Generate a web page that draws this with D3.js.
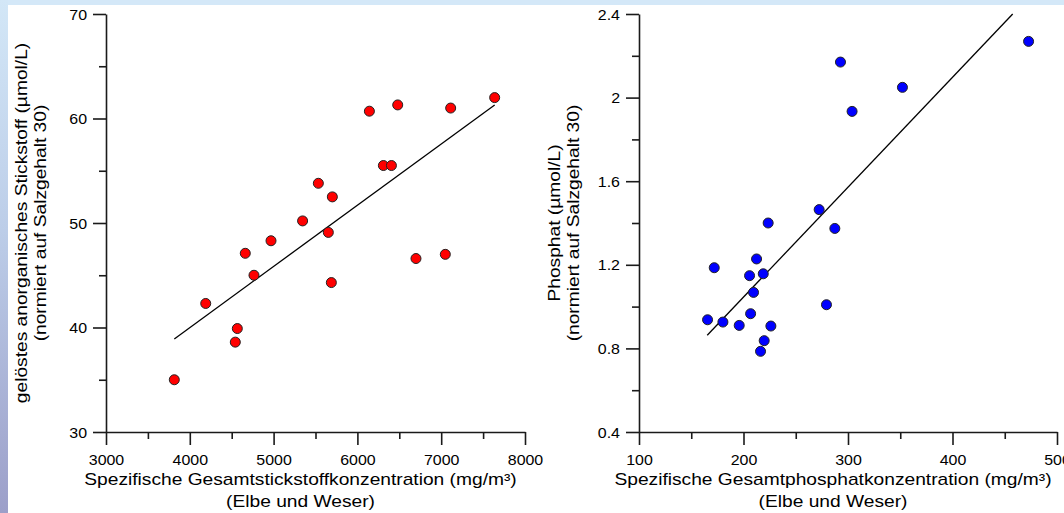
<!DOCTYPE html>
<html>
<head>
<meta charset="utf-8">
<script src="https://cdn.jsdelivr.net/npm/d3@7"></script>
<style>
  body { margin: 0; background: #fff; }
  svg { display: block; font-family: "Liberation Sans", Arial, sans-serif; }
</style>
</head>
<body>
<div id="chart"></div>
<script>
// left panel: dissolved inorganic nitrogen vs specific total nitrogen
var nitrogenX = [3815, 4190, 4543, 4567, 4662, 4766, 4969, 5346, 5534, 5653, 5689, 5701, 6143, 6310, 6406, 6481, 6699, 7049, 7113, 7638];
var nitrogenY = [35.0, 42.3, 38.6, 39.9, 47.1, 45.0, 48.3, 50.2, 53.8, 49.1, 44.3, 52.5, 60.7, 55.5, 55.5, 61.3, 46.6, 47.0, 61.0, 62.0];
var nitrogenFitX = [3815, 7638];
var nitrogenFitY = [38.9, 61.3];
var nitrogenXTicks = [3000, 4000, 5000, 6000, 7000, 8000];
var nitrogenXMinor = [3500, 4500, 5500, 6500, 7500];
var nitrogenYTicks = [30, 40, 50, 60, 70];
var nitrogenYLabels = ["30", "40", "50", "60", "70"];
var nitrogenYMinor = [35, 45, 55, 65];

// right panel: phosphate vs specific total phosphate
var phosphateX = [165.6, 172.0, 180.3, 195.9, 205.8, 206.8, 209.6, 212.5, 216.3, 218.9, 219.8, 223.6, 226.2, 272.4, 279.4, 287.4, 292.8, 303.9, 352.1, 472.8];
var phosphateY = [0.937, 1.186, 0.926, 0.910, 1.148, 0.966, 1.068, 1.228, 0.786, 1.157, 0.837, 1.400, 0.907, 1.464, 1.009, 1.374, 2.170, 1.934, 2.049, 2.269];
var phosphateFitX = [165.3, 457.6];
var phosphateFitY = [0.863, 2.4];
var phosphateXTicks = [100, 200, 300, 400, 500];
var phosphateXMinor = [150, 250, 350, 450];
var phosphateYTicks = [0.4, 0.8, 1.2, 1.6, 2.0, 2.4];
var phosphateYLabels = ["0.4", "0.8", "1.2", "1.6", "2", "2.4"];
var phosphateYMinor = [0.6, 1.0, 1.4, 1.8, 2.2];

var W = 1064, H = 513;
var TICK_SX = 1.14, TITLE_SX = 1.2;

var svg = d3.select("#chart").append("svg")
    .attr("width", W)
    .attr("height", H);

// background frame: blue strip at top, gradient strip on the left
var grad = svg.append("defs").append("linearGradient")
    .attr("id", "edge")
    .attr("x1", 0).attr("y1", 0).attr("x2", 0).attr("y2", 1);
grad.append("stop").attr("offset", "0%").attr("stop-color", "#d3e7f7");
grad.append("stop").attr("offset", "45%").attr("stop-color", "#bccde8");
grad.append("stop").attr("offset", "100%").attr("stop-color", "#9c9fc9");

svg.append("rect").attr("width", W).attr("height", H).attr("fill", "#d4e8f8");
svg.append("rect").attr("width", 8).attr("height", H).attr("fill", "url(#edge)");
svg.append("rect").attr("x", 8).attr("y", 5).attr("width", W - 8).attr("height", H - 5).attr("fill", "#fff");

function draw_panel(p){

  var x = d3.scaleLinear().domain(p.xDomain).range(p.xRange),
      y = d3.scaleLinear().domain(p.yDomain).range([432, 14]);

  var g = svg.append("g");

  // major + minor x ticks
  var xg = g.append("g")
      .attr("transform", "translate(0,432)")
      .call(d3.axisBottom(x).tickValues(p.xTicks).tickFormat(d3.format("d"))
          .tickSize(13).tickPadding(10).tickSizeOuter(0));
  xg.append("g")
      .call(d3.axisBottom(x).tickValues(p.xMinor).tickFormat("").tickSize(7).tickSizeOuter(0))
      .select(".domain").remove();

  // major + minor y ticks
  var yg = g.append("g")
      .attr("transform", "translate(" + p.xRange[0] + ",0)")
      .call(d3.axisLeft(y).tickValues(p.yTicks).tickFormat(function(d,i){ return p.yLabels[i]; })
          .tickSize(13).tickPadding(6).tickSizeOuter(0));
  yg.append("g")
      .call(d3.axisLeft(y).tickValues(p.yMinor).tickFormat("").tickSize(7).tickSizeOuter(0))
      .select(".domain").remove();

  g.selectAll(".domain, .tick line")
      .attr("stroke", "#1a1a1a")
      .attr("stroke-width", 1.6);

  xg.attr("font-size", null).attr("font-family", null);
  yg.attr("font-size", null).attr("font-family", null);

  xg.selectAll("text")
      .attr("font-size", 14)
      .attr("fill", "#000")
      .attr("transform", "scale(" + TICK_SX + ",1)");

  yg.selectAll("text")
      .attr("font-size", 14)
      .attr("fill", "#000")
      .attr("x", null)
      .attr("dy", "0.37em")
      .attr("transform", "translate(-19,0)scale(" + TICK_SX + ",1)");

  // regression line
  var line = d3.line()
      .x(function(d){ return x(d[0]); })
      .y(function(d){ return y(d[1]); });
  g.append("path")
      .datum(d3.zip(p.fitX, p.fitY))
      .attr("d", line)
      .attr("fill", "none")
      .attr("stroke", "#000")
      .attr("stroke-width", 1.3);

  // points
  g.append("g")
      .selectAll("circle")
      .data(d3.zip(p.xs, p.ys))
      .enter()
      .append("circle")
      .attr("cx", function(d){ return x(d[0]); })
      .attr("cy", function(d){ return y(d[1]); })
      .attr("r", 5)
      .attr("fill", p.color)
      .attr("stroke", "#222")
      .attr("stroke-width", 1);

  // x title
  var cx = (p.xRange[0] + p.xRange[1]) / 2 - 15;
  g.selectAll("text.xtitle")
      .data(p.xTitle)
      .enter()
      .append("text")
      .attr("class", "xtitle")
      .attr("text-anchor", "middle")
      .attr("font-size", 16)
      .attr("fill", "#000")
      .attr("transform", function(d,i){ return "translate(" + cx + "," + (485 + i*21.5) + ")scale(" + TITLE_SX + ",1)"; })
      .text(function(d){ return d; });

  // y title
  g.selectAll("text.ytitle")
      .data(p.yTitle)
      .enter()
      .append("text")
      .attr("class", "ytitle")
      .attr("text-anchor", "middle")
      .attr("font-size", 16)
      .attr("fill", "#000")
      .attr("transform", function(d,i){ return "translate(" + (p.xRange[0] - 79 + i*19) + ",223)rotate(-90)scale(" + TITLE_SX + ",1)"; })
      .text(function(d){ return d; });
}

draw_panel({
  xs: nitrogenX, ys: nitrogenY, fitX: nitrogenFitX, fitY: nitrogenFitY,
  xDomain: [3000, 8000], yDomain: [30, 70], xRange: [106, 525],
  xTicks: nitrogenXTicks, xMinor: nitrogenXMinor,
  yTicks: nitrogenYTicks, yLabels: nitrogenYLabels, yMinor: nitrogenYMinor,
  color: "#ff0000",
  xTitle: ["Spezifische Gesamtstickstoffkonzentration (mg/m³)", "(Elbe und Weser)"],
  yTitle: ["gelöstes anorganisches Stickstoff (µmol/L)", "(normiert auf Salzgehalt 30)"]
});

draw_panel({
  xs: phosphateX, ys: phosphateY, fitX: phosphateFitX, fitY: phosphateFitY,
  xDomain: [100, 500], yDomain: [0.4, 2.4], xRange: [639, 1057],
  xTicks: phosphateXTicks, xMinor: phosphateXMinor,
  yTicks: phosphateYTicks, yLabels: phosphateYLabels, yMinor: phosphateYMinor,
  color: "#0000ff",
  xTitle: ["Spezifische Gesamtphosphatkonzentration (mg/m³)", "(Elbe und Weser)"],
  yTitle: ["Phosphat (µmol/L)", "(normiert auf Salzgehalt 30)"]
});
</script>
</body>
</html>
